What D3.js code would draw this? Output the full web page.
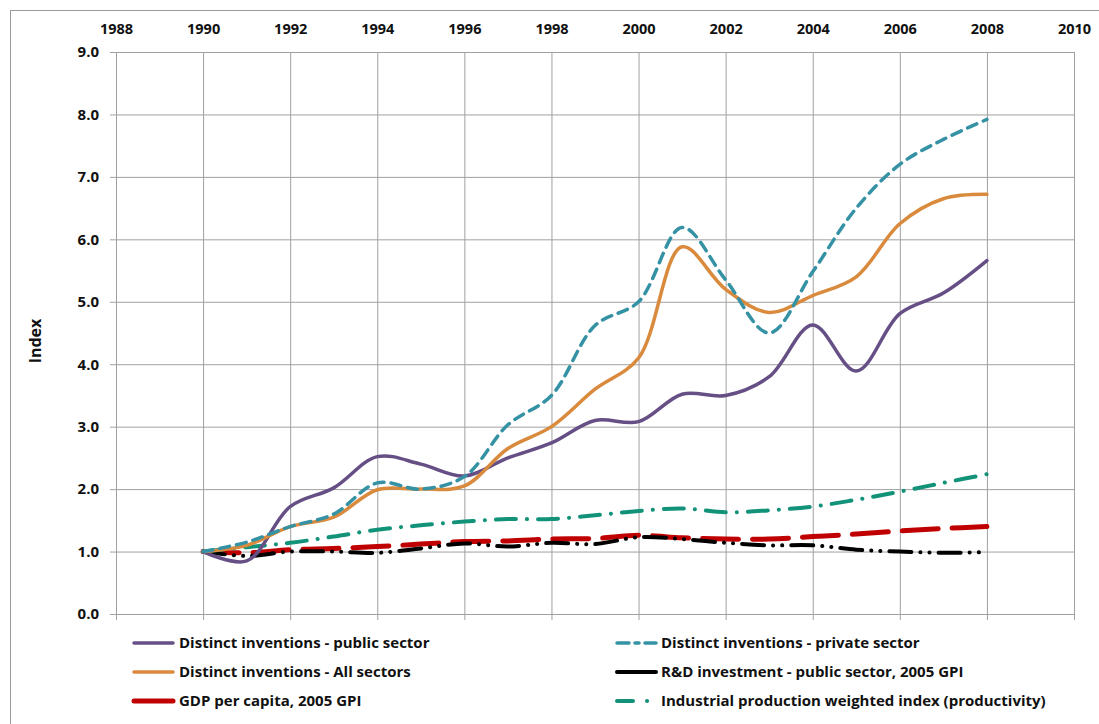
<!DOCTYPE html>
<html><head><meta charset="utf-8">
<script src="https://cdn.jsdelivr.net/npm/d3@7"></script>
<style>body{margin:0;background:#fff}svg{display:block}text{font-family:"Open Sans",Lato,sans-serif;font-weight:bold;fill:#111}</style>
</head><body><svg id="c" width="1099" height="724"></svg>
<script>
const years = d3.range(1990, 2009);
const xTicks = [1988,1990,1992,1994,1996,1998,2000,2002,2004,2006,2008,2010];
const yTicks = [0,1,2,3,4,5,6,7,8,9];
const publicSector = [1.0,0.85,1.72,2.02,2.52,2.4,2.21,2.5,2.74,3.1,3.08,3.52,3.5,3.8,4.63,3.89,4.81,5.14,5.66];
const privateSector = [1.0,1.15,1.4,1.6,2.1,2.0,2.2,3.03,3.5,4.62,5.0,6.19,5.35,4.5,5.48,6.5,7.2,7.6,7.92];
const allSectors = [1.0,1.1,1.4,1.55,1.99,2.0,2.05,2.65,3.0,3.6,4.1,5.88,5.2,4.83,5.1,5.4,6.25,6.65,6.72];
const rdPublic = [1.0,0.93,1.0,1.0,0.98,1.05,1.13,1.08,1.14,1.12,1.23,1.2,1.14,1.1,1.1,1.03,1.0,0.98,0.99];
const gdpPerCapita = [1.0,0.98,1.03,1.05,1.08,1.12,1.16,1.17,1.2,1.21,1.26,1.22,1.2,1.2,1.24,1.28,1.33,1.37,1.4];
const industrial = [1.0,1.07,1.14,1.24,1.35,1.42,1.48,1.52,1.52,1.58,1.65,1.69,1.63,1.66,1.72,1.83,1.96,2.1,2.24];

const series = [
  {name:"Distinct inventions - public sector", values:publicSector, color:"#654f85", w:3.5, dash:null},
  {name:"Distinct inventions - private sector", values:privateSector, color:"#3592a4", w:3.5, dash:"10,7"},
  {name:"Distinct inventions - All sectors", values:allSectors, color:"#d98a3c", w:3.5, dash:null},
  {name:"R&D investment - public sector, 2005 GPI", values:rdPublic, color:"#000000", w:4, dash:"22,9,0.1,9,0.1,9"},
  {name:"GDP per capita, 2005 GPI", values:gdpPerCapita, color:"#c00000", w:5, dash:"36,14"},
  {name:"Industrial production weighted index (productivity)", values:industrial, color:"#13927a", w:4, dash:"20,11,0.1,11"}
];

const svg = d3.select("#c");
svg.append("rect").attr("x",10.5).attr("y",10.5).attr("width",1200).attr("height",800)
  .attr("fill","none").attr("stroke","#9a9a9a").attr("stroke-width",1);

const x = d3.scaleLinear().domain([1988,2010]).range([116,1074]);
const y = d3.scaleLinear().domain([0,9]).range([614,52]);

const g = svg.append("g");
g.selectAll(".vg").data(xTicks).join("line")
  .attr("x1",d=>x(d)+0.5).attr("x2",d=>x(d)+0.5).attr("y1",y(9)).attr("y2",y(0)+6)
  .attr("stroke","#a0a0a0").attr("stroke-width",1);
g.selectAll(".hg").data(yTicks).join("line")
  .attr("x1",x(1988)-6).attr("x2",x(2010)).attr("y1",d=>y(d)+0.5).attr("y2",d=>y(d)+0.5)
  .attr("stroke","#a0a0a0").attr("stroke-width",1);

const xAxis = d3.axisTop(x).tickValues(xTicks).tickFormat(d3.format("d")).tickSize(0).tickPadding(0);
const xa = svg.append("g").attr("transform","translate(0,34)").call(xAxis);
xa.select(".domain").remove();
xa.selectAll("text").attr("font-size",14.5).attr("fill","#111").attr("dy",0);

const yAxis = d3.axisLeft(y).tickValues(yTicks).tickFormat(d3.format(".1f")).tickSize(0).tickPadding(0);
const ya = svg.append("g").attr("transform","translate(99,0)").call(yAxis);
ya.select(".domain").remove();
ya.selectAll("text").attr("font-size",15).attr("fill","#111");

svg.append("text").attr("transform","translate(41,341) rotate(-90)")
  .attr("text-anchor","middle").attr("font-size",16).text("Index");

const line = d3.line().x((d,i)=>x(years[i])).y(d=>y(d)).curve(d3.curveCatmullRom.alpha(0.5));
const drawOrder = [4,3,5,0,2,1];
drawOrder.forEach(k=>{
  const s = series[k];
  svg.append("path").attr("d",line(s.values)).attr("fill","none")
    .attr("stroke",s.color).attr("stroke-width",s.w)
    .attr("stroke-linecap","round").attr("stroke-linejoin","round")
    .attr("stroke-dasharray",s.dash);
});

const legCols = [{lx:134,tx:179},{lx:617,tx:661}];
const legRows = [643,672,701];
const legendOrder = [[0,0,0],[1,1,0],[2,0,1],[3,1,1],[4,0,2],[5,1,2]];
const legendDash = [null,"12,6,4,6",null,null,null,"16,14,0.1,14"];
legendOrder.forEach(([k,c,r])=>{
  const s = series[k];
  const lg = svg.append("g");
  lg.append("line").attr("x1",legCols[c].lx).attr("x2",legCols[c].lx+39)
    .attr("y1",legRows[r]).attr("y2",legRows[r])
    .attr("stroke",s.color).attr("stroke-width",s.w).attr("stroke-linecap","round")
    .attr("stroke-dasharray",legendDash[k]);
  lg.append("text").attr("x",legCols[c].tx).attr("y",legRows[r]+5)
    .attr("font-size",15).text(s.name);
});
</script></body></html>
